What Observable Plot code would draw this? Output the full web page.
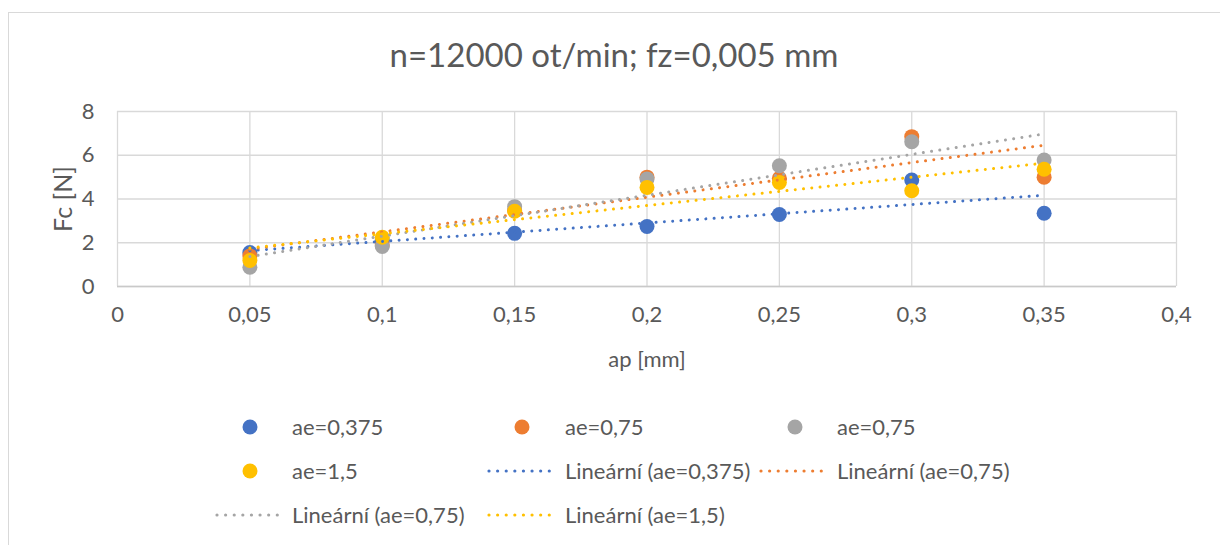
<!DOCTYPE html>
<html>
<head>
<meta charset="utf-8">
<script src="https://cdn.jsdelivr.net/npm/d3@7"></script>
<script src="https://cdn.jsdelivr.net/npm/@observablehq/plot@0.6"></script>
<style>
  html, body { margin: 0; padding: 0; background: #fff; }
  #wrap { position: relative; width: 1220px; height: 545px; overflow: hidden; font-family: Lato, "Open Sans", sans-serif; color: #595959; }
  #frame { position: absolute; left: 8px; top: 12px; width: 1300px; height: 600px; border-left: 1.5px solid #d9d9d9; border-top: 1.5px solid #d9d9d9; }
  #title { position: absolute; left: 0; width: 1228px; top: 34px; text-align: center; font-size: 33px; line-height: 40px; }
  #chart { position: absolute; left: 0; top: 0; }
  .legsym { position: absolute; }
  .legtxt { position: absolute; font-size: 22px; line-height: 26px; white-space: nowrap; }
</style>
</head>
<body>
<div id="wrap">
  <div id="frame"></div>
  <div id="chart"></div>
  <div id="title">n=12000 ot/min; fz=0,005 mm</div>
  <div id="legend"></div>
</div>
<script>
// ---- data ----
const ap = [0.05, 0.1, 0.15, 0.2, 0.25, 0.3, 0.35];
const fcAe0375 = [1.55, 2.1, 2.43, 2.74, 3.29, 4.87, 3.35];
const fcAe075a = [1.4, 1.9, 3.47, 5.0, 4.95, 6.85, 5.0];
const fcAe075b = [0.88, 1.83, 3.65, 4.92, 5.52, 6.62, 5.78];
const fcAe15 = [1.19, 2.25, 3.44, 4.53, 4.76, 4.38, 5.36];

const seriesKeys = ["s1", "s2", "s3", "s4"];
const seriesLabels = ["ae=0,375", "ae=0,75", "ae=0,75", "ae=1,5"];
const seriesColors = ["#4472C4", "#ED7D31", "#A5A5A5", "#FFC000"];
const seriesValues = [fcAe0375, fcAe075a, fcAe075b, fcAe15];
const trendPrefix = "Lineární";

const xTicks = [0, 0.05, 0.1, 0.15, 0.2, 0.25, 0.3, 0.35, 0.4];
const yTicks = [0, 2, 4, 6, 8];

const rows = [];
seriesKeys.forEach((k, i) => seriesValues[i].forEach((v, j) => rows.push({series: k, ap: ap[j], fc: v})));

const fmt = d => String(d).replace(".", ",");
const dash = "0.01 8.3";

const trend = seriesKeys.map((k, i) =>
  Plot.linearRegressionY(rows.filter(r => r.series === k), {
    x: "ap", y: "fc", ci: 0, stroke: seriesColors[i], strokeWidth: 3,
    strokeDasharray: dash, strokeLinecap: "round"
  })
);

const chart = Plot.plot({
  width: 1220, height: 380,
  marginTop: 111, marginLeft: 117, marginRight: 44, marginBottom: 94,
  style: {fontFamily: "Lato, 'Open Sans', sans-serif", fontSize: "22px", color: "#595959", background: "transparent"},
  x: {domain: [0, 0.4]},
  y: {domain: [0, 8]},
  color: {domain: seriesKeys, range: seriesColors},
  marks: [
    Plot.gridX(xTicks, {stroke: "#d9d9d9", strokeOpacity: 1, strokeWidth: 1.3}),
    Plot.gridY(yTicks, {stroke: "#d9d9d9", strokeOpacity: 1, strokeWidth: 1.3}),
    Plot.ruleY([0], {stroke: "#c9c9c9", strokeWidth: 1.5}),
    Plot.axisX(xTicks, {tickSize: 0, tickPadding: 20, tickFormat: fmt, fontSize: 22,
      label: "ap [mm]", labelAnchor: "center", labelArrow: "none", labelOffset: 80}),
    Plot.axisY(yTicks, {tickSize: 0, tickPadding: 23, tickFormat: fmt, fontSize: 22, label: null}),
    Plot.axisY([], {tickSize: 0, fontSize: 25,
      label: "Fc [N]", labelAnchor: "center", labelArrow: "none", labelOffset: 63}),
    Plot.dot(rows, {x: "ap", y: "fc", fill: "series", r: 7.5}),
    ...trend
  ]
});
document.getElementById("chart").appendChild(chart);

// ---- legend ----
const legend = document.getElementById("legend");
function addMarker(cx, cy, color) {
  const d = document.createElement("div");
  d.className = "legsym";
  d.style.left = (cx - 8) + "px"; d.style.top = (cy - 8) + "px";
  d.innerHTML = `<svg width="16" height="16"><circle cx="8" cy="8" r="7.5" fill="${color}"/></svg>`;
  legend.appendChild(d);
}
function addLine(x1, x2, cy, color) {
  const d = document.createElement("div");
  d.className = "legsym";
  d.style.left = (x1 - 3) + "px"; d.style.top = (cy - 8) + "px";
  const w = x2 - x1 + 6;
  d.innerHTML = `<svg width="${w}" height="16"><line x1="3" y1="8" x2="${w - 3}" y2="8" stroke="${color}" stroke-width="3.2" stroke-linecap="round" stroke-dasharray="0.01 8.6"/></svg>`;
  legend.appendChild(d);
}
function addText(x, cy, text) {
  const d = document.createElement("div");
  d.className = "legtxt";
  d.style.left = x + "px"; d.style.top = (cy - 13) + "px";
  d.textContent = text;
  legend.appendChild(d);
}
const r1 = 427, r2 = 471, r3 = 515;
addMarker(250, r1, seriesColors[0]); addText(292, r1, seriesLabels[0]);
addMarker(522, r1, seriesColors[1]); addText(565, r1, seriesLabels[1]);
addMarker(795, r1, seriesColors[2]); addText(837, r1, seriesLabels[2]);
addMarker(250, r2, seriesColors[3]); addText(292, r2, seriesLabels[3]);
addLine(489, 555, r2, seriesColors[0]); addText(565, r2, trendPrefix + " (" + seriesLabels[0] + ")");
addLine(761, 828, r2, seriesColors[1]); addText(837, r2, trendPrefix + " (" + seriesLabels[1] + ")");
addLine(217, 283, r3, seriesColors[2]); addText(292, r3, trendPrefix + " (" + seriesLabels[2] + ")");
addLine(489, 555, r3, seriesColors[3]); addText(565, r3, trendPrefix + " (" + seriesLabels[3] + ")");
</script>
</body>
</html>
